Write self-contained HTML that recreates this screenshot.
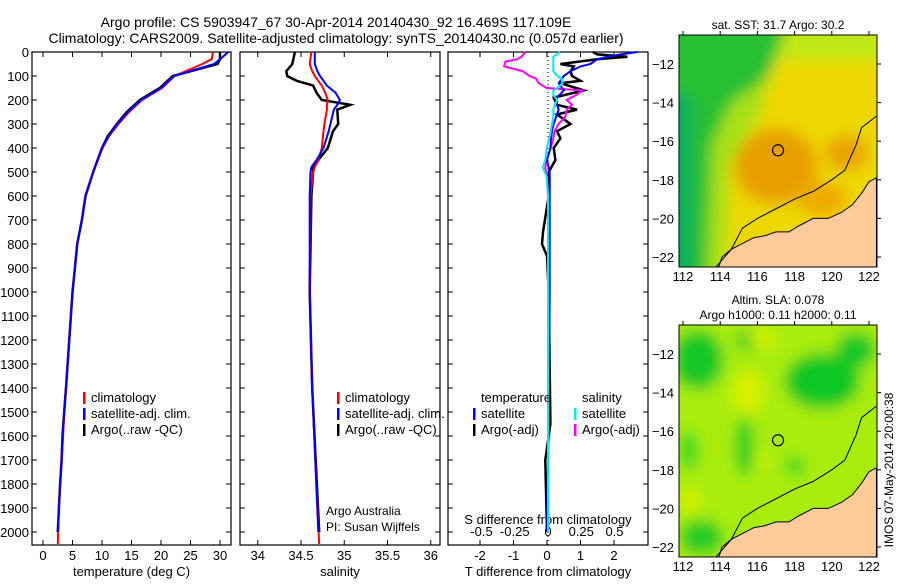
<!DOCTYPE html>
<html><head><meta charset="utf-8"><style>
body{margin:0;background:#fff;}
svg text{font-family:"Liberation Sans",sans-serif;fill:#000;}
</style></head><body>
<svg id="c" width="900" height="580" viewBox="0 0 900 580"></svg>
<script>
// ---- data ----
const tDepth=[0,30,50,100,150,200,250,300,350,400,500,600,700,800,900,1000,1400,1500,1600,1700,1800,1900,2000];
const tArgo=[30.0,30.0,29.6,22.0,19.8,16.4,14.2,12.5,11.0,10.0,8.5,7.2,6.6,5.8,5.4,5.0,3.9,3.6,3.3,3.15,2.9,2.7,2.5];
const tClim=[28.8,28.6,27.0,22.3,20.2,16.8,14.6,12.8,11.2,10.1,8.5,7.2,6.6,5.8,5.4,5.0,3.9,3.6,3.4,3.2,2.9,2.7,2.5];
const tSat=[31.4,30.0,29.0,22.2,20.0,16.6,14.4,12.6,11.1,10.0,8.5,7.2,6.6,5.8,5.4,5.0,3.9,3.6,3.3,3.15,2.9,2.7,2.5];
const sDepth=[0,50,80,100,120,140,170,200,220,240,300,330,400,450,480,500,600,1000,1400,2000];
const sArgo=[34.43,34.40,34.33,34.34,34.45,34.64,34.68,34.74,35.07,34.92,34.93,34.87,34.81,34.70,34.64,34.64,34.62,34.60,34.63,34.71];
const sClim=[34.62,34.60,34.63,34.66,34.70,34.74,34.78,34.81,34.80,34.80,34.77,34.76,34.74,34.70,34.66,34.64,34.61,34.60,34.63,34.71];
const sSat=[34.66,34.66,34.69,34.72,34.76,34.80,34.90,34.95,34.92,34.88,34.84,34.82,34.76,34.68,34.62,34.61,34.60,34.60,34.63,34.70];
const dtDepth=[0,10,20,30,50,60,80,100,120,130,160,190,220,240,260,300,330,360,400,450,500,600,750,800,850,1000,1550,1700,2000];
const dtArgo=[1.37,1.5,2.4,1.5,0.4,0.8,0.7,0.75,1.0,0.4,1.1,0.2,0.3,0.9,0.3,0.7,0.3,0.4,0.2,0.25,0.05,0.05,-0.12,-0.15,0.0,0.05,0.1,-0.05,0.0];
const dtSat=[2.7,2.2,1.8,1.5,1.3,1.0,0.7,0.5,0.4,0.35,0.5,0.3,0.3,0.35,0.3,0.2,0.15,0.12,0.1,0.0,0.08,0.08,0.08,0.08,0.08,0.08,0.05,0.03,0.0];
const dsDepth=[0,20,30,40,60,80,100,110,130,150,160,180,200,220,240,270,300,330,360,400,450,480,520,600,2000];
const dsArgo=[-0.17,-0.2,-0.23,-0.32,-0.33,-0.19,-0.14,-0.09,-0.07,-0.01,0.26,0.21,0.14,0.18,0.14,0.13,0.08,0.05,0.04,0.02,-0.01,-0.02,-0.01,0.0,0.0];
const dsSat=[0.09,0.04,0.04,0.04,0.04,0.04,0.07,0.1,0.11,0.07,0.04,0.04,0.07,0.05,0.04,0.04,0.03,0.02,0.01,-0.01,-0.02,-0.04,-0.01,0.0,0.0];
const depthTicks=[0,100,200,300,400,500,600,700,800,900,1000,1100,1200,1300,1400,1500,1600,1700,1800,1900,2000];
const tTicks=[0,5,10,15,20,25,30];
const sTicks=[34,34.5,35,35.5,36];
const dtTicks=[-2,-1,0,1,2];
const dsTicks=[-0.5,-0.25,0,0.25,0.5];
const lonTicks=[112,114,116,118,120,122];
const latTicks=[-12,-14,-16,-18,-20,-22];

const NS='http://www.w3.org/2000/svg';
const svg=document.getElementById('c');
function el(tag,attrs,parent){const e=document.createElementNS(NS,tag);for(const k in attrs)e.setAttribute(k,attrs[k]);(parent||svg).appendChild(e);return e;}
function txt(s,x,y,anchor,size,parent){const t=el('text',{x:x,y:y,'text-anchor':anchor||'middle','font-size':size||12},parent);t.textContent=s;return t;}
const yD=d=>52+d*0.24;
const PB=545;

let t=txt('Argo profile: CS 5903947_67 30-Apr-2014 20140430_92 16.469S 117.109E',336,27,'middle',14);

t=txt('Climatology: CARS2009. Satellite-adjusted climatology: synTS_20140430.nc (0.057d earlier)',336,43,'middle',14);


function panel(name,x0,x1,xs,ticks,fmt,xlabel,showDepth){
  const g=el('g',{});
  
  
  el('rect',{x:x0,y:52,width:x1-x0,height:PB-52,fill:'none',stroke:'#000','stroke-width':1.2},g);
  depthTicks.forEach(d=>{const y=yD(d);
    el('line',{x1:x0,x2:x0+5,y1:y,y2:y,stroke:'#000'},g);
    el('line',{x1:x1-5,x2:x1,y1:y,y2:y,stroke:'#000'},g);
    if(showDepth){txt(String(d),29,y+5,'end',13,g);}
  });
  if(ticks){ticks.forEach(v=>{const x=xs(v);
    el('line',{x1:x,x2:x,y1:PB,y2:PB-5,stroke:'#000'},g);
    el('line',{x1:x,x2:x,y1:52,y2:57,stroke:'#000'},g);
    txt(fmt(v),x,PB+15,'middle',13,g);});}
  if(xlabel){txt(xlabel,(x0+x1)/2,PB+31,'middle',13,g);}
  return g;
}
function line(g,xs,xArr,dArr,color,w,name){
  const p=xArr.map((v,i)=>xs(v).toFixed(1)+','+yD(dArr[i]).toFixed(1)).join(' ');
  const pl=el('polyline',{points:p,fill:'none',stroke:color,'stroke-width':w},g);
  
  
}
function legend(g,x,y,items){
  items.forEach((it,i)=>{const yy=y+i*16;
    el('rect',{x:x,y:yy-10,width:2.5,height:12,fill:it[1]},g);
    const tt=txt(it[0],x+8,yy,'start',13,g);
    });
}
const xT=v=>43+v*5.9;
let g1=panel('temperature-panel',32,231,xT,tTicks,v=>String(v),'temperature (deg C)',true);
line(g1,xT,tArgo,tDepth,'#000',2.5,'argo-temperature-line');
line(g1,xT,tClim,tDepth.map(d=>d===2000?2050:d),'#f00',2,'climatology-temperature-line');
line(g1,xT,tSat,tDepth,'#00f',2,'satellite-temperature-line');
legend(g1,83,402,[['climatology','#f00'],['satellite-adj. clim.','#00f'],['Argo(..raw -QC)','#000']]);
const xS=v=>301+(v-34.5)*86.5;
let g2=panel('salinity-panel',240,440,xS,sTicks,v=>String(v),'salinity',false);
line(g2,xS,sArgo,sDepth,'#000',2.5,'argo-salinity-line');
line(g2,xS,sClim,sDepth.map(d=>d===2000?2050:d),'#f00',2,'climatology-salinity-line');
line(g2,xS,sSat,sDepth,'#00f',2,'satellite-salinity-line');
legend(g2,337,402,[['climatology','#f00'],['satellite-adj. clim.','#00f'],['Argo(..raw -QC)','#000']]);
txt('Argo Australia',326,515,'start',12,g2);
txt('PI: Susan Wijffels',326,531,'start',12,g2);
const xDT=v=>547+v*33.5;
const xDS=v=>548+v*133;
let g3=panel('difference-panel',448,648,xDT,dtTicks,v=>String(v),'T difference from climatology',false);
el('line',{x1:548,x2:548,y1:52,y2:PB,stroke:'#000','stroke-dasharray':'1,3'},g3);
dsTicks.forEach(v=>{txt(String(v),xDS(v),536,'middle',13,g3);});
txt('S difference from climatology',548,524,'middle',13,g3);
line(g3,xDT,dtArgo,dtDepth,'#000',2.5,'argo-temperature-difference-line');
line(g3,xDS,dsArgo,dsDepth,'#f0f',2,'argo-salinity-difference-line');
line(g3,xDT,dtSat,dtDepth,'#00f',2,'satellite-temperature-difference-line');
line(g3,xDS,dsSat,dsDepth,'#0ee',2,'satellite-salinity-difference-line');
txt('temperature',481,402,'start',13,g3);
txt('salinity',582,402,'start',13,g3);
legend(g3,473,418,[['satellite','#00f'],['Argo(-adj)','#000']]);
legend(g3,574,418,[['satellite','#0ee'],['Argo(-adj)','#f0f']]);

// maps
const mx=lon=>683+(lon-112)*18.6;
const coast=[[113.9,-22.6],[114.1,-22.0],[114.6,-21.6],[115.2,-21.3],[115.8,-21.0],[116.4,-20.9],[117.0,-20.7],[117.7,-20.7],[118.2,-20.4],[119.0,-20.0],[119.8,-20.0],[120.5,-19.7],[121.1,-19.3],[121.6,-18.7],[122.0,-18.1],[122.4,-17.9],[122.4,-22.6]];
const iso=[[113.7,-22.6],[114.6,-21.6],[115.2,-20.5],[116.0,-20.0],[117.0,-19.5],[118.0,-19.0],[119.0,-18.6],[120.0,-18.0],[120.7,-17.5],[121.3,-16.2],[121.6,-15.3],[122.4,-14.7]];
const defs=el('defs',{});
const f=el('filter',{id:'blur',x:'-20%',y:'-20%',width:'140%',height:'140%'},defs);
el('feGaussianBlur',{stdDeviation:7},f);
function map(name,y0,kind,titles){
  const my=lat=>y0+29+(-12-lat)*19.3;
  const g=el('g',{});
  
  
  const id='clip'+kind;
  const cp=el('clipPath',{id:id},defs);el('rect',{x:679,y:y0,width:198,height:232},cp);
  const inner=el('g',{'clip-path':'url(#'+id+')'},g);
  const col=el('g',{filter:'url(#blur)'},inner);
  if(kind==='sst'){
    el('rect',{x:660,y:y0-20,width:240,height:270,fill:'#ecd800'},col);
    el('rect',{x:660,y:y0-20,width:240,height:45,fill:'#c0e818'},col);
    el('polygon',{points:`660,${y0-20} 790,${y0-20} 770,${y0+40} 730,${y0+70} 712,${y0+120} 706,${y0+260} 660,${y0+260}`,fill:'#28c030'},col);
    el('rect',{x:660,y:y0+60,width:32,height:200,fill:'#10b060'},col);
    el('polygon',{points:`712,${y0+110} 730,${y0+70} 770,${y0+40} 760,${y0+80} 730,${y0+130} 725,${y0+260} 706,${y0+260}`,fill:'#a8e018'},col);
    el('ellipse',{cx:mx(117),cy:my(-17.3),rx:42,ry:38,fill:'#e8a000'},col);
    el('ellipse',{cx:mx(120.8),cy:my(-16.6),rx:22,ry:18,fill:'#eaa400'},col);
    el('ellipse',{cx:mx(119.5),cy:my(-19),rx:25,ry:18,fill:'#eeac00'},col);
  } else {
    el('rect',{x:660,y:y0-20,width:240,height:270,fill:'#a8ec10'},col);
    [[112.8,-12.3,26,30,'#18c828'],[119.5,-13.4,38,28,'#10c820'],[115.3,-16.8,9,30,'#20cc20'],[113,-21.5,22,18,'#20cc20'],[121.3,-11.8,20,18,'#18c828'],[118,-17.8,10,10,'#40d820'],[115.5,-11.3,12,10,'#18c828'],[112.3,-17,10,20,'#40d820']].forEach(e=>el('ellipse',{cx:mx(e[0]),cy:my(e[1]),rx:e[2],ry:e[3],fill:e[4]},col));
    [[115.5,-14,16,22,'#d8f000'],[116.3,-11.2,14,10,'#d0f000'],[112.4,-19.6,10,12,'#d8f000'],[116.3,-17.5,6,10,'#c8f000']].forEach(e=>el('ellipse',{cx:mx(e[0]),cy:my(e[1]),rx:e[2],ry:e[3],fill:e[4]},col));
  }
  const land=el('polygon',{points:coast.map(p=>mx(p[0])+','+my(p[1])).join(' '),fill:'#fccb98',stroke:'#000','stroke-width':1},inner);
  
  el('polyline',{points:iso.map(p=>mx(p[0])+','+my(p[1])).join(' '),fill:'none',stroke:'#000','stroke-width':1},inner);
  const mk=el('circle',{cx:mx(117.109),cy:my(-16.469),r:5.5,fill:'none',stroke:'#000','stroke-width':1.2},g);
  
  el('rect',{x:679,y:y0,width:198,height:232,fill:'none',stroke:'#000'},g);
  lonTicks.forEach(v=>{el('line',{x1:mx(v),x2:mx(v),y1:y0,y2:y0-4,stroke:'#000'},g);txt(String(v),mx(v),y0+246,'middle',13,g);});
  latTicks.forEach(v=>{el('line',{x1:877,x2:881,y1:my(v),y2:my(v),stroke:'#000'},g);txt('\u2212'+(-v),674,my(v)+5,'end',13,g);});
  titles.forEach((s,i)=>txt(s,778,y0-(titles.length-i)*15+9,'middle',12,g));
}
map('sst-map',35,'sst',['sat. SST: 31.7 Argo: 30.2']);
map('sla-map',325,'sla',['Altim. SLA: 0.078','Argo h1000: 0.11 h2000: 0.11']);
t=txt('IMOS 07-May-2014 20:00:38',0,0,'middle',12);
t.setAttribute('transform','translate(893,470) rotate(-90)');

</script>
</body></html>
